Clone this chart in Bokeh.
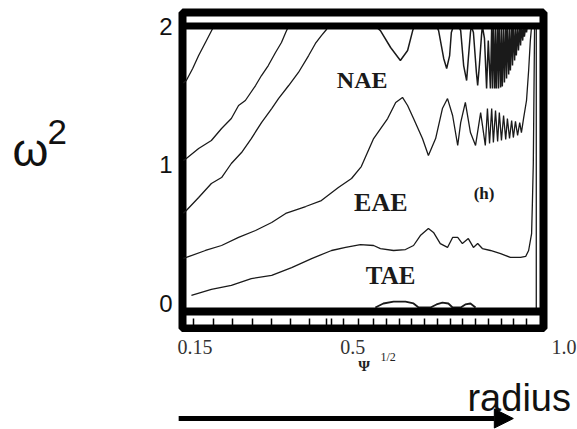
from bokeh.plotting import figure
from bokeh.layouts import column, row
from bokeh.models import Range1d, FixedTicker, Span, Label, Arrow, NormalHead
from bokeh.core.properties import value
from bokeh.embed import file_html
from bokeh.resources import INLINE

# ---- data (x = Psi^1/2 radius, y = omega^2) ----
y_ticks = [0, 1, 2]
x_ticks = [0.15, 0.5, 1.0]
x_tick_labels = ["0.15", "0.5", "1.0"]
x_minor = [0.175, 0.222, 0.268, 0.315, 0.36, 0.405, 0.45, 0.49, 0.53, 0.565, 0.6,
           0.63, 0.66, 0.69, 0.72, 0.75, 0.78, 0.81, 0.84, 0.87, 0.9, 0.93, 0.96]

curve_a_x = [0.152, 0.159, 0.174, 0.188, 0.204, 0.221, 0.223]
curve_a_y = [1.59, 1.607, 1.694, 1.787, 1.881, 1.982, 2.0]

curve_b_x = [0.152, 0.159, 0.188, 0.218, 0.242, 0.265, 0.282, 0.298, 0.322, 0.336,
             0.352, 0.369, 0.383, 0.393, 0.400]
curve_b_y = [1.03, 1.045, 1.117, 1.175, 1.261, 1.333, 1.427, 1.463, 1.571, 1.643,
             1.715, 1.809, 1.881, 1.953, 2.0]

curve_c_x = [0.152, 0.159, 0.188, 0.218, 0.242, 0.265, 0.289, 0.312, 0.336, 0.360,
             0.376, 0.400, 0.423, 0.447, 0.463, 0.477, 0.489, 0.494]
curve_c_y = [0.65, 0.670, 0.764, 0.865, 0.908, 1.009, 1.088, 1.189, 1.304, 1.405,
             1.477, 1.571, 1.665, 1.787, 1.874, 1.931, 1.975, 2.0]

curve_d_x = [0.152, 0.159, 0.204, 0.242, 0.282, 0.322, 0.360, 0.393, 0.440, 0.477,
             0.517, 0.548, 0.571, 0.600, 0.633, 0.652, 0.668, 0.680, 0.694, 0.715,
             0.729, 0.746, 0.762, 0.774, 0.786, 0.798, 0.805, 0.816, 0.828, 0.840,
             0.852, 0.863, 0.868, 0.873, 0.878, 0.882, 0.887, 0.892, 0.896, 0.901,
             0.906, 0.911, 0.915, 0.920, 0.925, 0.929, 0.934, 0.939, 0.944, 0.948,
             0.953, 0.960, 0.965, 0.969, 0.972]
curve_d_y = [0.325, 0.332, 0.382, 0.418, 0.476, 0.526, 0.584, 0.649, 0.699, 0.742,
             0.836, 0.901, 0.987, 1.189, 1.333, 1.449, 1.485, 1.427, 1.333, 1.189,
             1.067, 1.189, 1.405, 1.477, 1.355, 1.139, 1.304, 1.449, 1.232, 1.139,
             1.376, 1.139, 1.405, 1.153, 1.405, 1.160, 1.391, 1.167, 1.376, 1.175,
             1.355, 1.182, 1.333, 1.189, 1.319, 1.196, 1.312, 1.211, 1.304, 1.232,
             1.333, 1.463, 1.679, 1.895, 2.0]

curve_e_x = [0.604, 0.616, 0.640, 0.663, 0.680, 0.692, 0.696, 0.748, 0.753, 0.765,
             0.772, 0.779, 0.783, 0.788, 0.800, 0.805, 0.812, 0.819, 0.823, 0.828,
             0.830, 0.835, 0.842, 0.845, 0.849, 0.854, 0.856, 0.861, 0.866, 0.870,
             0.875, 0.878, 0.880, 0.882, 0.885, 0.887, 0.889, 0.892, 0.894, 0.896,
             0.899, 0.901, 0.903, 0.906, 0.908, 0.911, 0.913, 0.915, 0.918, 0.920,
             0.922, 0.925, 0.927, 0.929, 0.932, 0.934, 0.936, 0.939, 0.941, 0.944,
             0.946, 0.948, 0.951, 0.953, 0.955, 0.958, 0.960, 0.962]
curve_e_y = [2.0, 1.967, 1.845, 1.751, 1.823, 1.967, 2.0, 2.0, 1.967, 1.766,
             1.694, 1.787, 1.953, 2.0, 2.0, 1.967, 1.715, 1.607, 1.766, 1.953,
             2.0, 1.953, 1.665, 1.571, 1.715, 1.931, 2.0, 1.910, 1.549, 1.895,
             1.549, 2.0, 1.549, 2.0, 1.549, 2.0, 1.549, 2.0, 1.549, 2.0,
             1.557, 2.0, 1.564, 2.0, 1.593, 2.0, 1.622, 2.0, 1.650, 2.0,
             1.679, 2.0, 1.715, 2.0, 1.751, 2.0, 1.787, 2.0, 1.823, 2.0,
             1.859, 2.0, 1.895, 2.0, 1.924, 2.0, 1.953, 2.0]

curve_f_x = [0.171, 0.218, 0.265, 0.312, 0.360, 0.407, 0.454, 0.501, 0.534, 0.569,
             0.600, 0.616, 0.647, 0.675, 0.694, 0.710, 0.729, 0.741, 0.757, 0.774,
             0.786, 0.798, 0.809, 0.823, 0.835, 0.845, 0.856, 0.875, 0.899, 0.922,
             0.946, 0.958, 0.965, 0.972, 0.974, 0.976, 0.979]
curve_f_y = [0.058, 0.101, 0.130, 0.180, 0.202, 0.259, 0.324, 0.382, 0.404, 0.425,
             0.418, 0.396, 0.382, 0.389, 0.418, 0.490, 0.541, 0.512, 0.432, 0.404,
             0.476, 0.476, 0.432, 0.468, 0.404, 0.432, 0.396, 0.382, 0.360, 0.332,
             0.332, 0.339, 0.382, 0.504, 0.742, 1.009, 2.0]

curve_g_x = [0.604, 0.623, 0.647, 0.675, 0.694, 0.706, 0.734, 0.748, 0.762, 0.776,
             0.786, 0.805, 0.816, 0.828, 0.840]
curve_g_y = [-0.029, 0.0, 0.014, 0.014, 0.0, -0.029, -0.029, -0.007, 0.007, 0.0,
             -0.029, -0.029, -0.007, 0.0, -0.029]

wall_x = [0.983, 0.983]
wall_y = [-0.05, 2.0]

region_labels = ["NAE", "EAE", "TAE", "(h)"]
region_x = [0.573, 0.617, 0.640, 0.860]
region_y = [1.7045, 0.836, 0.3005, 0.8605]
region_size = ["24px", "26px", "25px", "17px"]

X0, X1 = 0.15, 1.0
Y0, Y1 = -0.1802, 2.0973


def bare(fig):
    fig.grid.visible = False
    fig.outline_line_color = None
    fig.background_fill_color = "white"
    fig.border_fill_color = "white"
    return fig


# ---- left strip: omega^2 ----
left = bare(figure(width=140, height=332, output_backend="svg", toolbar_location=None,
                   title=None,
                   x_range=Range1d(-0.2785, 0.0511), y_range=Range1d(-0.209, 2.1838),
                   x_axis_location=None, y_axis_location=None, min_border=0))
left.add_layout(Label(x=-0.250, y=1.339, text="ω", text_font="Liberation Sans",
                      text_font_size="46px", text_color="#111111", text_baseline="top"))
left.add_layout(Label(x=-0.168, y=1.3665, text="2", text_font="Liberation Sans",
                      text_font_size="35px", text_color="#111111", text_baseline="top"))

# ---- main panel ----
p = figure(width=437, height=332, output_backend="svg", toolbar_location=None,
           title=None,
           x_range=Range1d(X0, X1), y_range=Range1d(Y0, Y1),
           min_border_left=42, min_border_right=34, min_border_top=12,
           min_border_bottom=4)
p.grid.visible = False
p.background_fill_color = "white"
p.border_fill_color = "white"
p.outline_line_color = "black"
p.outline_line_width = 8
p.outline_line_alpha = 1.0

p.yaxis.ticker = FixedTicker(ticks=y_ticks)
p.yaxis.axis_line_color = None
p.yaxis.major_tick_line_color = None
p.yaxis.major_tick_out = 0
p.yaxis.major_tick_in = 0
p.yaxis.minor_tick_line_color = None
p.yaxis.major_label_text_font = "Liberation Sans"
p.yaxis.major_label_text_font_size = "24px"
p.yaxis.major_label_text_color = "#111111"
p.yaxis.major_label_standoff = 10

# inner tick marks between the two bottom bands (labels are drawn in the strip below)
p.xaxis.ticker = FixedTicker(ticks=[], minor_ticks=x_ticks + x_minor)
p.xaxis.axis_line_color = None
p.xaxis.major_tick_line_color = None
p.xaxis.minor_tick_in = 10
p.xaxis.minor_tick_out = 0
p.xaxis.minor_tick_line_color = "black"
p.xaxis.minor_tick_line_width = 1.5
p.xaxis.major_label_standoff = 0

p.add_layout(Span(location=2.0, dimension="width", line_color="black", line_width=7))
p.add_layout(Span(location=-0.0577, dimension="width", line_color="black", line_width=8))

lc = "#1a1a1a"
for xs, ys in [(curve_a_x, curve_a_y), (curve_b_x, curve_b_y), (curve_c_x, curve_c_y),
               (curve_d_x, curve_d_y), (curve_f_x, curve_f_y), (wall_x, wall_y)]:
    p.line(xs, ys, line_color=lc, line_width=1.3)
p.line(curve_e_x, curve_e_y, line_color=lc, line_width=1.5)
p.line(curve_g_x, curve_g_y, line_color=lc, line_width=1.8)

for t, x, y, s in zip(region_labels, region_x, region_y, region_size):
    p.add_layout(Label(x=x, y=y, text=t, text_font="Liberation Serif",
                       text_font_style="bold", text_font_size=s, text_color="#1a1a1a",
                       text_align="center", text_baseline="top"))

# ---- bottom strip: tick labels, Psi^1/2, radius arrow ----
bottom = bare(figure(width=577, height=97, output_backend="svg", toolbar_location=None,
                     title=None,
                     x_range=Range1d(-0.2785, 1.0801), y_range=Range1d(-0.9081, -0.209),
                     x_axis_location=None, y_axis_location=None, min_border=0))
bottom.text(x=x_ticks, y=-0.2595, text=x_tick_labels, text_font=value("Liberation Serif"),
            text_font_size="20px", text_color="#333333", text_align="left",
            text_baseline="top", x_offset=[-5, 9, 8])
bottom.add_layout(Label(x=0.564, y=-0.3935, text="Ψ", text_font="Liberation Serif",
                        text_font_style="bold", text_font_size="15px", text_color="#222222",
                        text_baseline="top"))
bottom.add_layout(Label(x=0.616, y=-0.3337, text="1/2", text_font="Liberation Serif",
                        text_font_size="12px", text_color="#222222", text_baseline="top"))
bottom.add_layout(Label(x=0.821, y=-0.5283, text="radius", text_font="Liberation Sans",
                        text_font_size="38px", text_color="#111111", text_baseline="top"))
bottom.add_layout(Arrow(end=NormalHead(size=19, fill_color="black", line_color="black"),
                        x_start=0.141, y_start=-0.829, x_end=0.929, y_end=-0.829,
                        line_color="black", line_width=5))

layout = column(row(left, p, spacing=0), bottom, spacing=0)
open("out.html", "w").write(file_html(layout, INLINE))
